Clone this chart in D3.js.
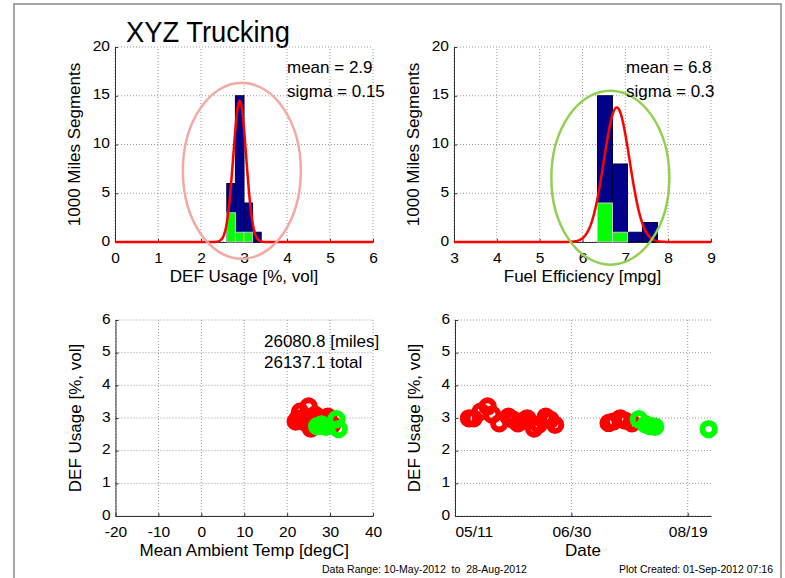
<!DOCTYPE html>
<html><head><meta charset="utf-8">
<script src="https://cdn.jsdelivr.net/npm/d3@7"></script>
<style>
body{margin:0;background:#fff}
text{font-family:Arial,"Liberation Sans",sans-serif;fill:#000}
</style>
</head><body>
<svg id="chart" width="785" height="578"></svg>
<script>
// Histogram bins and counts (all segments / most recent segments)
const defBinEdges = [2.6, 2.8, 3.0, 3.2, 3.4];
const defCountsAll = [6, 15, 4, 1];
const defCountsRecent = [3, 1, 1, 0];
const mpgBinEdges = [6.35, 6.7, 7.05, 7.4, 7.75];
const mpgCountsAll = [15, 8, 1, 2];
const mpgCountsRecent = [4, 1, 0, 0];

// Normal fits: [DEF usage, fuel efficiency]
const fitMeans = [2.9, 6.8];
const fitSigmas = [0.15, 0.3];
const fitPeaks = [14.5, 13.8];

// Per-segment data
const segDates = ["2012-05-17","2012-05-19","2012-05-22","2012-05-25","2012-05-27","2012-05-30",
  "2012-06-03","2012-06-05","2012-06-07","2012-06-09","2012-06-11","2012-06-14","2012-06-16",
  "2012-06-19","2012-06-21","2012-06-23","2012-07-16","2012-07-18","2012-07-21","2012-07-23",
  "2012-07-26","2012-07-29","2012-08-01","2012-08-03","2012-08-05","2012-08-28"];
const segDEF = [2.99,2.99,3.19,3.35,3.10,2.84,3.04,2.95,2.84,2.90,2.99,2.68,2.80,
  3.04,2.95,2.79,2.85,2.89,2.99,2.92,2.84,2.96,2.80,2.75,2.73,2.66];
const segTemp = [24.0,22.5,23.0,25.0,26.5,24.5,26.0,23.5,25.5,27.5,28.5,25.5,27.0,
  29.5,26.0,30.5,28.0,22.0,27.0,29.0,30.0,31.5,28.0,27.0,29.0,32.0];
const segRecent = [0,0,0,0,0,0,0,0,0,0,0,0,0,0,0,0,0,0,0,0,0,1,1,1,1,1];

const milesText = ["26080.8 [miles]", "26137.1 total"];
const defTicks = [0,1,2,3,4,5,6];
const mpgTicks = [3,4,5,6,7,8,9];
const countTicks = [0,5,10,15,20];
const defUsageTicks = [0,1,2,3,4,5,6];
const tempTicks = [-20,-10,0,10,20,30,40];
const dateTicks = ["2012-05-11","2012-06-30","2012-08-19"];
const dateDomain = ["2012-05-11","2012-08-29"];

const RED = "#ff0000", GREEN = "#00ff00", NAVY = "#00008b";
const svg = d3.select("#chart");
const parse = d3.timeParse("%Y-%m-%d");
const plain = d => String(d);

// Figure frame
svg.append("rect").attr("x",14).attr("y",4).attr("width",767).attr("height",590)
  .attr("fill","none").attr("stroke","#8a8a8a").attr("stroke-width",1.5);

svg.append("text").attr("x",126).attr("y",42).attr("font-size",30)
  .attr("textLength",164).attr("lengthAdjust","spacingAndGlyphs").text("XYZ Trucking");

function makeAxes(x, y, xTicks, yTicks, xFmt, opts) {
  const g = svg.append("g");
  const [x0, x1] = x.range(), [y0, y1] = y.range();
  // dotted grid
  g.selectAll(".gx").data(xTicks).join("line")
    .attr("x1", d => x(d)).attr("x2", d => x(d)).attr("y1", y0).attr("y2", y1)
    .attr("stroke","#9a9a9a").attr("stroke-width",1).attr("stroke-dasharray","1,2");
  g.selectAll(".gy").data(yTicks).join("line")
    .attr("x1", x0).attr("x2", x1).attr("y1", d => y(d)).attr("y2", d => y(d))
    .attr("stroke","#9a9a9a").attr("stroke-width",1).attr("stroke-dasharray","1,2");
  // axes with inward ticks
  const ax = g.append("g").attr("transform",`translate(0,${y0})`)
    .call(d3.axisBottom(x).tickValues(xTicks).tickSizeInner(-3).tickSizeOuter(0)
      .tickPadding(opts.xPad).tickFormat(xFmt));
  const ay = g.append("g").attr("transform",`translate(${x0},0)`)
    .call(d3.axisLeft(y).tickValues(yTicks).tickSizeInner(-3).tickSizeOuter(0).tickPadding(5).tickFormat(plain));
  [ax, ay].forEach(a => {
    a.select(".domain").attr("stroke","#333");
    a.selectAll(".tick line").attr("stroke","#333");
    a.selectAll("text").attr("font-size",15.5).attr("font-family","Arial, 'Liberation Sans', sans-serif").attr("fill","#000");
  });
  ax.selectAll("text").attr("dy","0.71em");
  ay.selectAll("text").attr("dy","0.2em");
  // axis titles
  g.append("text").attr("x",(x0+x1)/2).attr("y",y0+40).attr("text-anchor","middle")
    .attr("font-size",17).text(opts.xLabel);
  g.append("text").attr("transform",`translate(${x0-35},${(y0+y1)/2}) rotate(-90)`)
    .attr("text-anchor","middle").attr("font-size",17).text(opts.yLabel);
  return {g, ax, ay};
}

function histPanel(x0, x1, xDomain, xTicks, edges, all, recent, fi, ell, ellColor, noteX) {
  const x = d3.scaleLinear().domain(xDomain).range([x0, x1]);
  const y = d3.scaleLinear().domain([0,20]).range([242, 47]);
  const {g} = makeAxes(x, y, xTicks, countTicks, plain,
    {xLabel: fi === 0 ? "DEF Usage [%, vol]" : "Fuel Efficiency [mpg]", yLabel: "1000 Miles Segments", xPad: 10});
  const bins = all.map((c,i) => ({a: edges[i], b: edges[i+1], c, r: recent[i]}));
  g.selectAll(".ba").data(bins.filter(d => d.c > 0)).join("rect")
    .attr("x", d => x(d.a)).attr("width", d => x(d.b) - x(d.a))
    .attr("y", d => y(d.c)).attr("height", d => y(0) - y(d.c))
    .attr("fill", NAVY).attr("stroke","#000033").attr("stroke-width",1);
  g.selectAll(".br").data(bins.filter(d => d.r > 0)).join("rect")
    .attr("x", d => x(d.a)).attr("width", d => x(d.b) - x(d.a))
    .attr("y", d => y(d.r)).attr("height", d => y(0) - y(d.r))
    .attr("fill", GREEN).attr("stroke","#c8c8c8").attr("stroke-width",1);
  // normal fit curve
  const mu = fitMeans[fi], s = fitSigmas[fi], pk = fitPeaks[fi];
  const xs = d3.range(0, 401).map(i => xDomain[0] + (xDomain[1]-xDomain[0]) * i / 400);
  g.append("path").datum(xs)
    .attr("d", d3.line().x(v => x(v)).y(v => y(pk * Math.exp(-0.5 * ((v-mu)/s) ** 2))))
    .attr("fill","none").attr("stroke",RED).attr("stroke-width",2.5);
  // highlight ellipse
  g.append("ellipse").attr("cx", x(ell[0])).attr("cy", y(ell[1]))
    .attr("rx", ell[2]).attr("ry", ell[3])
    .attr("fill","none").attr("stroke",ellColor).attr("stroke-width",2.5);
  g.append("text").attr("x",noteX).attr("y",73).attr("font-size",17).text("mean = " + mu);
  g.append("text").attr("x",noteX).attr("y",97).attr("font-size",17).text("sigma = " + s);
}

histPanel(115, 373, [0,6], defTicks, defBinEdges, defCountsAll, defCountsRecent, 0,
  [2.95, 7.3, 59, 88], "#f4aaa2", 287);
histPanel(454, 711, [3,9], mpgTicks, mpgBinEdges, mpgCountsAll, mpgCountsRecent, 1,
  [6.65, 6.6, 59, 87], "#92d050", 626);

const points = segDates.map((d,i) => ({date: parse(d), def: segDEF[i], temp: segTemp[i], recent: segRecent[i]}));
const order = points.slice().sort((a,b) => a.recent - b.recent);
const yDef = d3.scaleLinear().domain([0,6]).range([516, 320]);

function drawMarkers(g, x, key) {
  g.selectAll(".pt").data(order).join("circle")
    .attr("cx", d => x(d[key])).attr("cy", d => yDef(d.def)).attr("r", 6.2)
    .attr("fill","none").attr("stroke", d => d.recent ? GREEN : RED).attr("stroke-width",6);
}

// Temperature scatter
const xTemp = d3.scaleLinear().domain([-20,40]).range([115.5, 373]);
const pTemp = makeAxes(xTemp, yDef, tempTicks, defUsageTicks, plain,
  {xLabel: "Mean Ambient Temp [degC]", yLabel: "DEF Usage [%, vol]", xPad: 9.5});
drawMarkers(pTemp.g, xTemp, "temp");
milesText.forEach((t,i) => pTemp.g.append("text").attr("x",264).attr("y",347 + i*21)
  .attr("font-size",17).text(t));

// Date scatter
const xDate = d3.scaleTime().domain(dateDomain.map(parse)).range([455, 711]);
const pDate = makeAxes(xDate, yDef, dateTicks.map(parse), defUsageTicks, d3.timeFormat("%m/%d"),
  {xLabel: "Date", yLabel: "DEF Usage [%, vol]", xPad: 9.5});
pDate.ax.selectAll(".tick text").filter((d,i) => i === 0).attr("text-anchor","start");
drawMarkers(pDate.g, xDate, "date");

// Footer
svg.append("text").attr("x",322).attr("y",573).attr("font-size",10.5).attr("fill","#222")
  .attr("xml:space","preserve").text("Data Range: 10-May-2012  to  28-Aug-2012");
svg.append("text").attr("x",773).attr("y",573).attr("font-size",10.5).attr("fill","#222")
  .attr("text-anchor","end").text("Plot Created: 01-Sep-2012 07:16");
</script>
</body></html>
